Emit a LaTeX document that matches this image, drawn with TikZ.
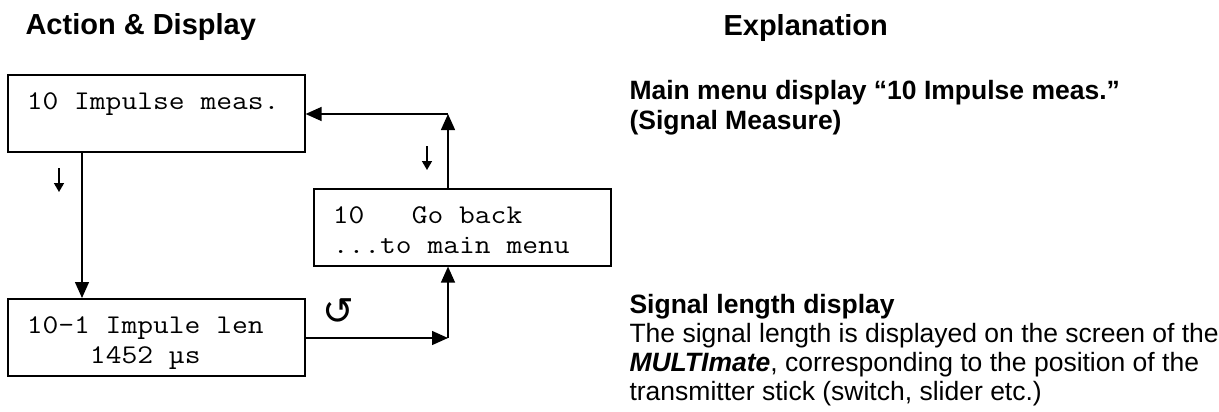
\documentclass[tikz,border=0pt]{standalone}
\usepackage{fontspec}
\setmainfont{Liberation Sans}
\newfontfamily\lcdfont{Latin Modern Mono}[FakeStretch=1.136]
\newfontfamily\symfont{DejaVu Sans}
\usetikzlibrary{arrows.meta,positioning}

\newcommand{\lcd}[2]{\rule{0pt}{28pt}#1\\#2\rule[-6pt]{0pt}{6pt}}
\newcommand{\gap}{\phantom{0}}
\newcommand{\keydown}{\tikz\draw[line width=1.6pt,-{Triangle[length=9pt,width=10pt]}] (0,0) -- (0,-24pt);}

\begin{document}
\begin{tikzpicture}[x=1pt,y=-1pt,
            lcd/.style={draw, line width=1.6pt, anchor=north west, minimum width=297pt, minimum height=77pt,
                inner xsep=19pt, inner ysep=0pt, text width=259pt, align=left, font=\lcdfont\fontsize{27}{30}\selectfont},
            head/.style={anchor=base west, font=\bfseries\fontsize{29}{30}\selectfont},
            expl/.style={anchor=base west, align=left, font=\fontsize{26.5}{#1}\selectfont},
            >={Triangle[length=16pt,width=14pt]}
        ]
        \useasboundingbox (0,0) rectangle (1219,412);

        % column heads
        \node[head] (hdact) at (22,35) {Action \& Display};
        \node[head] (hdexp) at (720,36) {Explanation};

        % displays
        \node[lcd] (main) at (7,74) {\lcd{10\gap Impulse\gap meas.}{}};
        \node[lcd] (back) at (313,188) {\lcd{10\gap\gap\gap Go\gap back}{...to\gap main\gap menu}};
        \node[lcd] (len) at (7,298) {\lcd{10-1\gap Impule\gap len}{\gap\gap\gap\gap 1452\gap µs}};

        % keys
        \node[inner sep=0pt] (keymain) at (59,180) {\keydown};
        \node[inner sep=0pt] (keyback) at (427,158) {\keydown};
        \node[inner sep=0pt, font=\symfont\fontsize{38}{38}\selectfont] (turn) at (338,312) {↺};

        % connectors
        \coordinate (up) at (448,114);
        \coordinate (rt) at (448,338);
        \draw[->, line width=1.4pt] ([xshift=75pt]main.south west) -- ([xshift=75pt]len.north west);
        \draw[->, line width=1.4pt] (back.north -| up) -- (up);
        \draw[->, line width=1.4pt] (up) -- (up -| main.east);
        \draw[->, line width=1.4pt] (len.east |- rt) -- (rt);
        \draw[->, line width=1.4pt] (rt) -- (rt |- back.south);

        % explanations (base = last line)
        \node[expl=30] (menuexp) at (626,129) {\textbf{Main menu display “10 Impulse meas.”}\\\textbf{(Signal Measure)}};
        \node[expl=29] (lenexp) at (626,400) {\textbf{Signal length display}\\The signal length is displayed on the screen of the\\\textbf{\textit{MULTImate}}, corresponding to the position of the\\transmitter stick (switch, slider etc.)};
    \end{tikzpicture}
\end{document}
